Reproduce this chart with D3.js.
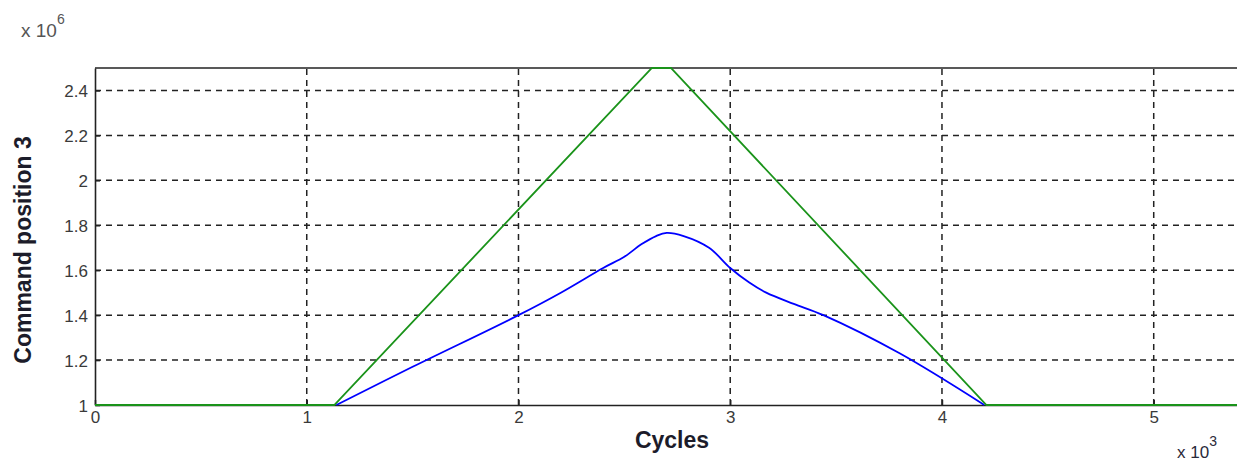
<!DOCTYPE html>
<html>
<head>
<meta charset="utf-8">
<script src="https://cdn.jsdelivr.net/npm/d3@7"></script>
<style>
  body { margin: 0; background: #fff; }
  svg { display: block; font-family: Arial, "Liberation Sans", sans-serif; }
</style>
</head>
<body>
<div id="chart"></div>
<script>
// values in units of 10^3 cycles and 10^6 position
const xTicks = [0, 1, 2, 3, 4, 5];
const yTicks = [1, 1.2, 1.4, 1.6, 1.8, 2, 2.2, 2.4];
const yTickLabels = ['1', '1.2', '1.4', '1.6', '1.8', '2', '2.2', '2.4'];

const greenX = [0, 1.13, 2.63, 2.72, 4.21, 5.45];
const greenY = [1, 1, 2.5, 2.5, 1, 1];

const blueX = [1.14, 1.5, 2.0, 2.2, 2.4, 2.5, 2.58, 2.65, 2.70, 2.78, 2.9, 3.0, 3.09, 3.17, 3.3, 3.44, 3.8, 4.2];
const blueY = [1.0, 1.17, 1.4, 1.5, 1.61, 1.66, 1.715, 1.752, 1.766, 1.752, 1.70, 1.61, 1.545, 1.50, 1.45, 1.4, 1.23, 1.0];

const width = 1237;
const height = 462;
const margin = { left: 95, top: 68, right: -12, bottom: 57 };

const svg = d3.select('#chart')
  .append('svg')
  .attr('width', width)
  .attr('height', height);

const x = d3.scaleLinear()
  .domain([0, 5.45])
  .range([margin.left, width - margin.right]);

const y = d3.scaleLinear()
  .domain([1, 2.5])
  .range([height - margin.bottom, margin.top]);

// grid
svg.append('g')
  .selectAll('line')
  .data(xTicks.filter(d => d > 0))
  .enter()
  .append('line')
  .attr('x1', d => x(d)).attr('x2', d => x(d))
  .attr('y1', y(1)).attr('y2', y(2.5))
  .attr('stroke', '#222')
  .attr('stroke-width', 1.5)
  .attr('stroke-dasharray', '6,5');

svg.append('g')
  .selectAll('line')
  .data(yTicks.filter(d => d > 1))
  .enter()
  .append('line')
  .attr('x1', x(0)).attr('x2', x(5.45))
  .attr('y1', d => y(d)).attr('y2', d => y(d))
  .attr('stroke', '#222')
  .attr('stroke-width', 1.5)
  .attr('stroke-dasharray', '6,5');

// frame
svg.append('line')
  .attr('x1', x(0)).attr('x2', x(5.45))
  .attr('y1', y(2.5)).attr('y2', y(2.5))
  .attr('stroke', '#222').attr('stroke-width', 1.6);

const xAxis = d3.axisBottom(x)
  .tickValues(xTicks)
  .tickSizeInner(-5)
  .tickSizeOuter(0)
  .tickPadding(13)
  .tickFormat(d3.format('d'));

const yAxis = d3.axisLeft(y)
  .tickValues(yTicks)
  .tickSizeInner(-5)
  .tickSizeOuter(0)
  .tickPadding(7)
  .tickFormat((d, i) => yTickLabels[i]);

const gx = svg.append('g')
  .attr('transform', `translate(0,${y(1)})`)
  .call(xAxis);

const gy = svg.append('g')
  .attr('transform', `translate(${x(0)},0)`)
  .call(yAxis);

[gx, gy].forEach(g => {
  g.select('.domain').attr('stroke', '#222').attr('stroke-width', 1.6);
  g.selectAll('.tick line').attr('stroke', '#222').attr('stroke-width', 1.5);
  g.selectAll('.tick text')
    .attr('fill', '#3a3a3a')
    .style('font-size', '17px');
});
gx.selectAll('.tick text').attr('dy', '0.3em');
gy.selectAll('.tick text').attr('dy', '0.36em');

// lines
svg.append('path')
  .datum(blueX.map((v, i) => [v, blueY[i]]))
  .attr('d', d3.line().x(d => x(d[0])).y(d => y(d[1])).curve(d3.curveCatmullRom))
  .attr('fill', 'none')
  .attr('stroke', '#0000ff')
  .attr('stroke-width', 1.8);

svg.append('path')
  .datum(greenX.map((v, i) => [v, greenY[i]]))
  .attr('d', d3.line().x(d => x(d[0])).y(d => y(d[1])))
  .attr('fill', 'none')
  .attr('stroke', '#1a931a')
  .attr('stroke-width', 1.8);

// exponent labels
const e6 = svg.append('text')
  .attr('x', 21).attr('y', 37)
  .attr('fill', '#555')
  .style('font-size', '19px');
e6.append('tspan').text('x 10');
e6.append('tspan').attr('dy', -13).style('font-size', '14px').text('6');

const e3 = svg.append('text')
  .attr('x', 1177).attr('y', 458)
  .attr('fill', '#2a2a3a')
  .style('font-size', '17px');
e3.append('tspan').text('x 10');
e3.append('tspan').attr('dy', -12).style('font-size', '14px').text('3');

// axis titles
svg.append('text')
  .attr('x', 672)
  .attr('y', 448)
  .attr('text-anchor', 'middle')
  .attr('fill', '#1c1c2a')
  .style('font-size', '23px')
  .style('font-weight', 'bold')
  .text('Cycles');

svg.append('text')
  .attr('transform', 'translate(31,250) rotate(-90)')
  .attr('text-anchor', 'middle')
  .attr('fill', '#1c1c2a')
  .style('font-size', '23px')
  .style('font-weight', 'bold')
  .text('Command position 3');
</script>
</body>
</html>
